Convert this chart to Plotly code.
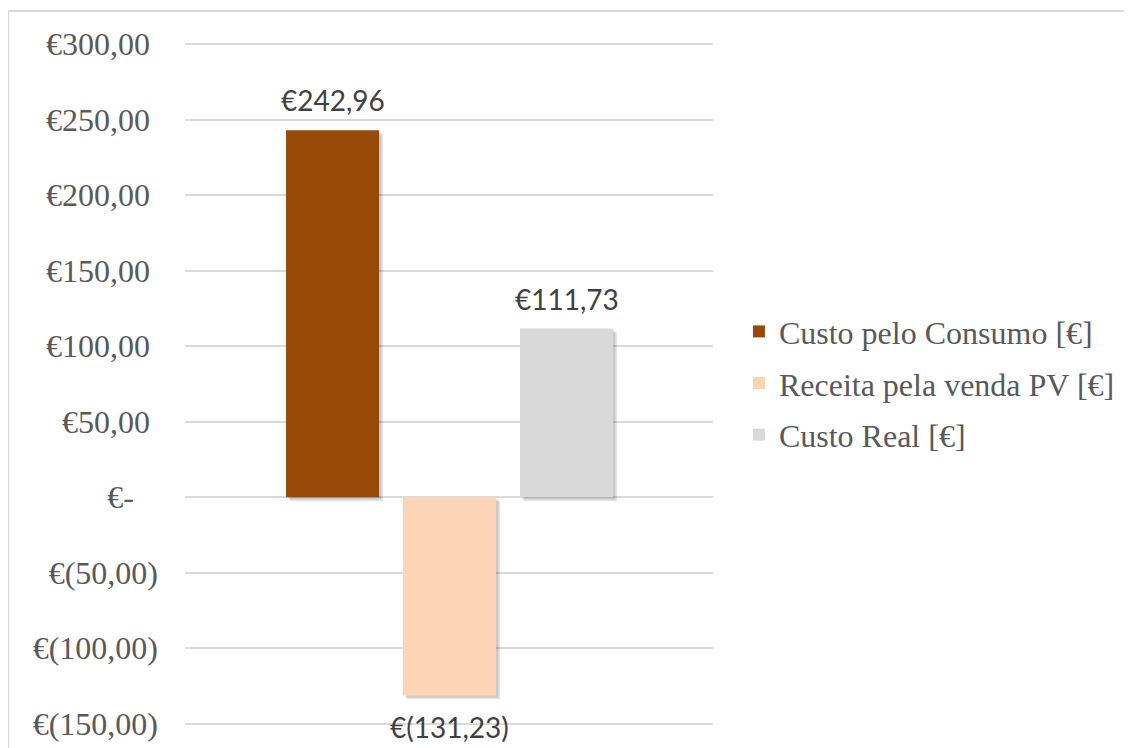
import plotly.graph_objects as go

series_names = ["Custo pelo Consumo [€]", "Receita pela venda PV [€]", "Custo Real [€]"]
values = [242.96, -131.23, 111.73]
value_labels = ["€242,96", "€(131,23)", "€111,73"]
colors = ["#984807", "#FBD5B5", "#D9D9D9"]
tick_vals = [300, 250, 200, 150, 100, 50, 0, -50, -100, -150]
tick_text = ["€300,00\u00a0", "€250,00\u00a0", "€200,00\u00a0", "€150,00\u00a0", "€100,00\u00a0",
             "€50,00\u00a0", "€-\u00a0\u00a0\u00a0", "€(50,00)", "€(100,00)", "€(150,00)"]

BAR_W = 0.795
SH_DX = 0.034
SH_DY = 2.6

fig = go.Figure()

# soft shadows
for i, v in enumerate(values):
    for k, a in [(1.0, 0.10), (0.6, 0.12)]:
        fig.add_trace(go.Bar(
            x=[i + SH_DX * k], y=[v], base=[-SH_DY * k], width=BAR_W,
            marker=dict(color=f"rgba(0,0,0,{a})", line=dict(width=0)),
            showlegend=False, hoverinfo="skip"))

for i, (name, v, c) in enumerate(zip(series_names, values, colors)):
    fig.add_trace(go.Bar(
        x=[i], y=[v], width=BAR_W, name=name, legendgroup=name,
        marker=dict(color=c, line=dict(width=0))))

for i, (v, lab) in enumerate(zip(values, value_labels)):
    fig.add_annotation(
        x=i, y=v, xref="x", yref="y", text=lab, showarrow=False,
        yanchor="middle", yshift=30 if v >= 0 else -32,
        font=dict(family="Lato", size=28, color="#404040"))

fig.add_shape(type="rect", xref="paper", yref="paper",
              x0=-0.335, x1=1.9, y0=-0.2, y1=1.047,
              line=dict(color="#D9D9D9", width=2), fillcolor="rgba(0,0,0,0)", layer="below")

fig.update_layout(
    width=1132, height=748,
    margin=dict(l=177, r=427, t=35, b=31),
    paper_bgcolor="white", plot_bgcolor="white",
    barmode="overlay",
    showlegend=True,
    legend=dict(xref="container", yref="container", x=0.6457, y=0.4985,
                xanchor="left", yanchor="middle",
                font=dict(family="Liberation Serif", size=32, color="#595959"),
                tracegroupgap=7, traceorder="grouped"),
    xaxis=dict(range=[-1.261, 3.252], showticklabels=False, showgrid=False,
               zeroline=False, showline=False, ticks=""),
    yaxis=dict(range=[-150.8, 300.8], tickvals=tick_vals, ticktext=tick_text,
               showgrid=True, gridcolor="#D9D9D9", gridwidth=2,
               zeroline=True, zerolinecolor="#D9D9D9", zerolinewidth=2,
               showline=False, ticks="", ticklabelstandoff=26,
               tickfont=dict(family="Liberation Serif", size=32, color="#595959")),
)

fig.write_html("out.html")
